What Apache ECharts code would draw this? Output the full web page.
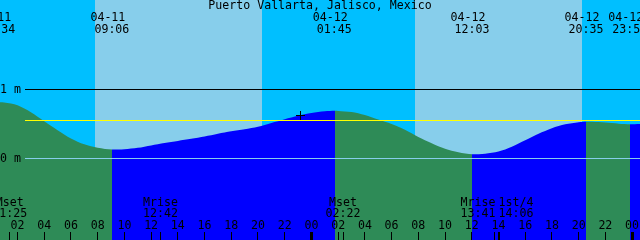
<!DOCTYPE html>
<html><head><meta charset="utf-8">
<script src="https://cdn.jsdelivr.net/npm/echarts@6/dist/echarts.min.js"></script>
<style>html,body{margin:0;padding:0;background:#fff}#c{width:640px;height:240px}</style>
</head><body><div id="c"></div>
<script>
// ---- data (hours since 04-11 00:00) ----
const chartTitle = 'Puerto Vallarta, Jalisco, Mexico';
const tideHours  = [0, 0.567, 1, 2, 3, 4, 5, 6, 7, 8, 9.1, 10, 11, 12, 13, 14, 15, 16, 17, 18, 19, 20, 21, 22, 23, 24, 25, 25.75, 26, 27, 28, 29, 30, 31, 32, 33, 34, 35, 36.05, 37, 38, 39, 40, 41, 42, 43, 44, 44.583, 45, 46, 47, 47.867, 49];
const tideLevels = [0.805, 0.815, 0.81, 0.77, 0.67, 0.54, 0.41, 0.29, 0.205, 0.155, 0.13, 0.135, 0.155, 0.19, 0.225, 0.255, 0.285, 0.32, 0.36, 0.395, 0.425, 0.46, 0.515, 0.57, 0.62, 0.66, 0.685, 0.692, 0.69, 0.675, 0.63, 0.565, 0.50, 0.415, 0.31, 0.22, 0.14, 0.09, 0.06, 0.07, 0.10, 0.17, 0.265, 0.36, 0.44, 0.495, 0.525, 0.533, 0.532, 0.52, 0.505, 0.498, 0.505];
const tideEventHours = [0.567, 9.1, 25.75, 36.05, 44.583, 47.867];
const tideEventKinds = ['H', 'L', 'H', 'L', 'H', 'L'];
const tideEventDates = ['04-11', '04-11', '04-12', '04-12', '04-12', '04-12'];
const tideEventTimes = ['00:34', '09:06', '01:45', '12:03', '20:35', '23:52'];
const sunEventHours = [7.80, 20.30, 31.75, 44.25]; // rise, set, rise, set
const moonEventHours = [1.417, 12.7, 26.367, 37.683, 38.1];
const moonEventNames = ['Mset', 'Mrise', 'Mset', 'Mrise', '1st/4'];
const moonEventTimes = ['01:25', '12:42', '02:22', '13:41', '14:06'];
const hourTicks = [2, 4, 6, 8, 10, 12, 14, 16, 18, 20, 22, 24, 26, 28, 30, 32, 34, 36, 38, 40, 42, 44, 46, 48];
const levelValues = [1, 0];
const levelLabels = ['1 m', '0 m'];
const meanLevel = 0.551;
const nowMark = [23.18, 0.627];
const xMin = 0.6886, xMax = 48.593, yMin = -1.1812, yMax = 2.2971;

// ---- styles ----
const NIGHT = '#00BFFF', DAY = '#87CEEB', GREEN = '#2E8B57', BLUE = '#0000FF';
const FONT = '11.6px "DejaVu Sans Mono"';
const CHAR_W = 7;

const bandEdges = [xMin - 1].concat(sunEventHours, [xMax + 1]);
const bands = [];
for (let i = 0; i < bandEdges.length - 1; i++) bands.push([bandEdges[i], bandEdges[i + 1]]);

const pieces = [];
let prev = null;
tideEventHours.forEach((h, i) => {
  const p = { lt: h, color: tideEventKinds[i] === 'H' ? BLUE : GREEN };
  if (prev !== null) p.gte = prev;
  pieces.push(p); prev = h;
});
pieces.push({ gte: prev, color: tideEventKinds[tideEventKinds.length - 1] === 'H' ? GREEN : BLUE });

function txt(x, y, s, align) {
  return { type: 'text', style: { x: x, y: y, text: s, fill: '#000', font: FONT, align: align || 'center', verticalAlign: 'middle' } };
}
function resolveCenters(xs, w, gap) {
  const c = xs.slice();
  for (let it = 0; it < 5; it++) for (let i = 0; i < c.length - 1; i++) {
    const need = w + gap;
    if (c[i + 1] - c[i] < need) { const m = (c[i] + c[i + 1]) / 2; c[i] = m - need / 2; c[i + 1] = m + need / 2; }
  }
  return c;
}

const chart = echarts.init(document.getElementById('c'), null, { renderer: 'canvas' });
chart.setOption({
  animation: false,
  backgroundColor: '#fff',
  title: { text: chartTitle, left: 'center', top: 0, padding: 0, textStyle: { fontFamily: 'DejaVu Sans Mono', fontSize: 11.6, fontWeight: 'normal', color: '#000' }, z: 20 },
  grid: { left: 0, right: 0, top: 0, bottom: 0 },
  xAxis: { type: 'value', min: xMin, max: xMax, show: false },
  yAxis: { type: 'value', min: yMin, max: yMax, show: false },
  visualMap: { type: 'piecewise', show: false, dimension: 0, seriesIndex: 1, pieces: pieces },
  series: [
    { // sky bands
      type: 'custom', z: 1, silent: true, data: bands,
      renderItem: function (params, api) {
        const p0 = api.coord([api.value(0), yMax]), p1 = api.coord([api.value(1), yMin]);
        const x0 = Math.round(p0[0]), x1 = Math.round(p1[0]);
        return { type: 'rect', shape: { x: x0, y: p0[1], width: x1 - x0, height: p1[1] - p0[1] }, style: { fill: params.dataIndex % 2 ? DAY : NIGHT } };
      }
    },
    { // water
      type: 'line', z: 2, silent: true, showSymbol: false, smooth: 0.3,
      data: tideHours.map((h, i) => [h, tideLevels[i]]),
      lineStyle: { width: 0 }, areaStyle: { opacity: 1, origin: 'start' }
    },
    { // horizontal level lines
      type: 'custom', z: 3, silent: true, data: [[1], [meanLevel], [0]],
      renderItem: function (params, api) {
        const y = Math.floor(api.coord([xMin, api.value(0)])[1]);
        const col = ['#000', '#FFFF00', '#87CEEB'][params.dataIndex];
        return { type: 'rect', shape: { x: 25, y: y, width: 615, height: 1 }, style: { fill: col } };
      }
    },
    { // level labels
      type: 'custom', z: 4, silent: true, data: levelValues.map(v => [v]),
      renderItem: function (params, api) {
        const y = api.coord([xMin, api.value(0)])[1];
        return txt(0, y + 0.2, levelLabels[params.dataIndex], 'left');
      }
    },
    { // tide event labels (top)
      type: 'custom', z: 4, silent: true, data: tideEventHours.map(h => [h]),
      renderItem: function (params, api) {
        const x = api.coord([api.value(0), 0])[0];
        const i = params.dataIndex;
        return { type: 'group', children: [txt(x - 4.5, 18, tideEventDates[i]), txt(x - 0.5, 29.5, tideEventTimes[i])] };
      }
    },
    { // hour ticks & labels (bottom)
      type: 'custom', z: 4, silent: true, data: hourTicks.map(h => [h]),
      renderItem: function (params, api) {
        const h = api.value(0);
        const x = api.coord([h, 0])[0];
        const mid = h % 24 === 0;
        const w = mid ? 3 : 1;
        const xr = Math.floor(x) - (mid ? 1 : 0);
        const lab = String(h % 24).padStart(2, '0');
        return { type: 'group', children: [
          { type: 'rect', shape: { x: xr, y: 232, width: w, height: 8 }, style: { fill: '#000' } },
          txt(x, 226, lab)
        ] };
      }
    },
    { // moon events (bottom)
      type: 'custom', z: 4, silent: true, data: moonEventHours.map(h => [h]),
      renderItem: function (params, api) {
        const xs = moonEventHours.map(h => api.coord([h, 0])[0]);
        const cs = resolveCenters(xs, 5 * CHAR_W, 3);
        const i = params.dataIndex;
        return { type: 'group', children: [
          { type: 'rect', shape: { x: Math.floor(xs[i]), y: 232, width: 1, height: 8 }, style: { fill: '#000' } },
          txt(cs[i], 202.5, moonEventNames[i]),
          txt(cs[i], 214, moonEventTimes[i])
        ] };
      }
    },
    { // current-time cross
      type: 'custom', z: 5, silent: true, data: [nowMark],
      renderItem: function (params, api) {
        const p = api.coord([api.value(0), api.value(1)]);
        const cx = Math.floor(p[0]), cy = Math.floor(p[1]);
        return { type: 'group', children: [
          { type: 'rect', shape: { x: cx - 4, y: cy, width: 9, height: 1 }, style: { fill: '#000' } },
          { type: 'rect', shape: { x: cx, y: cy - 4, width: 1, height: 9 }, style: { fill: '#000' } }
        ] };
      }
    }
  ]
});
</script></body></html>
